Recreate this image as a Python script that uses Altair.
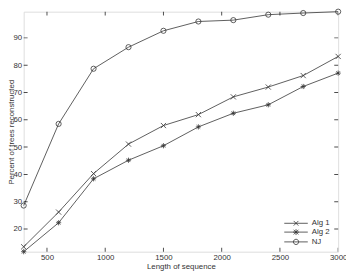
import altair as alt
import pandas as pd

lengths = [300, 600, 900, 1200, 1500, 1800, 2100, 2400, 2700, 3000]
alg1 = [13.5, 26.2, 40.3, 51.1, 57.9, 61.9, 68.4, 72.0, 76.2, 83.2]
alg2 = [11.7, 22.3, 38.4, 45.2, 50.5, 57.4, 62.4, 65.5, 72.2, 77.1]
nj = [28.6, 58.5, 78.7, 86.6, 92.6, 96.0, 96.5, 98.5, 99.1, 99.6]
series_names = ["Alg 1", "Alg 2", "NJ"]
x_ticks = [500, 1000, 1500, 2000, 2500, 3000]
y_ticks = [20, 30, 40, 50, 60, 70, 80, 90]

rows = []
for name, vals in zip(series_names, [alg1, alg2, nj]):
    for L, v in zip(lengths, vals):
        rows.append({"series": name, "length": L, "pct": v})
df = pd.DataFrame(rows)

xmin, xmax = lengths[0], lengths[-1]
ymin, ymax = min(alg2), max(nj)

FONT = "Liberation Sans"
INK = "#333333"
XT = "Length of sequence"
YT = "Percent of trees reconstructed"

xs = alt.Scale(domain=[xmin, xmax], nice=False, zero=False)
ys = alt.Scale(domain=[ymin, ymax], nice=False, zero=False)

xaxis = alt.Axis(values=x_ticks, tickSize=0, labelPadding=2, domain=False, grid=False,
                 labelFlush=False, labelOverlap=False, labelBound=False, labelFontSize=8, labelColor=INK,
                 titleFontSize=8, titleFontWeight="normal", titleColor=INK, titlePadding=1,
                 labelFont=FONT, titleFont=FONT, format="d")
yaxis = alt.Axis(values=y_ticks, tickSize=0, labelPadding=2, domain=False, grid=False,
                 labelOverlap=False, labelFlush=False, labelBound=False,
                 labelFontSize=8, labelColor=INK, titleFontSize=8, titleFontWeight="normal",
                 titleColor=INK, titlePadding=-1, titleBaseline="alphabetic",
                 labelFont=FONT, titleFont=FONT)

base = alt.Chart(df)

lines = base.mark_line(color=INK, strokeWidth=0.8).encode(
    x=alt.X("length:Q", scale=xs, axis=xaxis, title=XT),
    y=alt.Y("pct:Q", scale=ys, axis=yaxis, title=YT),
    detail="series:N",
)

marker_paths = [
    "M-1,-1L1,1M-1,1L1,-1",
    "M-1,0L1,0M0,-1L0,1M-0.7,-0.7L0.7,0.7M-0.7,0.7L0.7,-0.7",
    "circle",
]
points = base.mark_point(filled=False, color=INK, strokeWidth=0.8, size=28, opacity=1).encode(
    x=alt.X("length:Q", scale=xs, axis=xaxis, title=XT),
    y=alt.Y("pct:Q", scale=ys, axis=yaxis, title=YT),
    shape=alt.Shape("series:N", scale=alt.Scale(domain=series_names, range=marker_paths), legend=None),
)

legend_paths = [
    "M-4,0L4,0M-0.8,-0.8L0.8,0.8M-0.8,0.8L0.8,-0.8",
    "M-4,0L4,0M-0.8,-0.8L0.8,0.8M-0.8,0.8L0.8,-0.8M-1,0L1,0M0,-1L0,1",
    "M-4,0L4,0M0.9,0A0.9,0.9 0 1 1 -0.9,0A0.9,0.9 0 1 1 0.9,0",
]
legend_layer = base.transform_filter("datum.pct < 0").mark_point(
    filled=False, color=INK, strokeWidth=0.8, size=36).encode(
    x=alt.X("length:Q", scale=xs, axis=xaxis, title=XT),
    y=alt.Y("pct:Q", scale=ys, axis=yaxis, title=YT),
    shape=alt.Shape("series:N", scale=alt.Scale(domain=series_names, range=legend_paths),
                    legend=alt.Legend(title=None, orient="none", legendX=274, legendY=212,
                                      labelFontSize=8, labelFont=FONT, labelColor=INK,
                                      symbolSize=36, symbolStrokeColor=INK, symbolStrokeWidth=0.8,
                                      symbolFillColor="transparent", symbolOpacity=1,
                                      labelOffset=12, rowPadding=0, padding=0)),
)

xt = pd.DataFrame({"t": x_ticks})
yt = pd.DataFrame({"t": y_ticks})
tick_kw = dict(thickness=1, color="#000", clip=True, size=8)
xtick_bottom = alt.Chart(xt).mark_tick(orient="vertical", **tick_kw).encode(
    x=alt.X("t:Q", scale=xs, axis=xaxis, title=XT), y=alt.datum(ymin, scale=ys, axis=yaxis, title=YT))
xtick_top = alt.Chart(xt).mark_tick(orient="vertical", **tick_kw).encode(
    x=alt.X("t:Q", scale=xs, axis=xaxis, title=XT), y=alt.datum(ymax, scale=ys, axis=yaxis, title=YT))
ytick_left = alt.Chart(yt).mark_tick(orient="horizontal", **tick_kw).encode(
    y=alt.Y("t:Q", scale=ys, axis=yaxis, title=YT), x=alt.datum(xmin, scale=xs, axis=xaxis, title=XT))
ytick_right = alt.Chart(yt).mark_tick(orient="horizontal", **tick_kw).encode(
    y=alt.Y("t:Q", scale=ys, axis=yaxis, title=YT), x=alt.datum(xmax, scale=xs, axis=xaxis, title=XT))

chart = alt.layer(
    lines, points, legend_layer, xtick_bottom, xtick_top, ytick_left, ytick_right
).resolve_scale(shape="independent").properties(
    width=321, height=245,
    autosize=alt.AutoSizeParams(type="none"),
    padding={"left": 16, "top": 1, "right": 8, "bottom": 19},
).configure_view(stroke="#000", strokeWidth=1).configure(background="white")

chart.save("out.html", embed_options={"renderer": "svg", "actions": False})
